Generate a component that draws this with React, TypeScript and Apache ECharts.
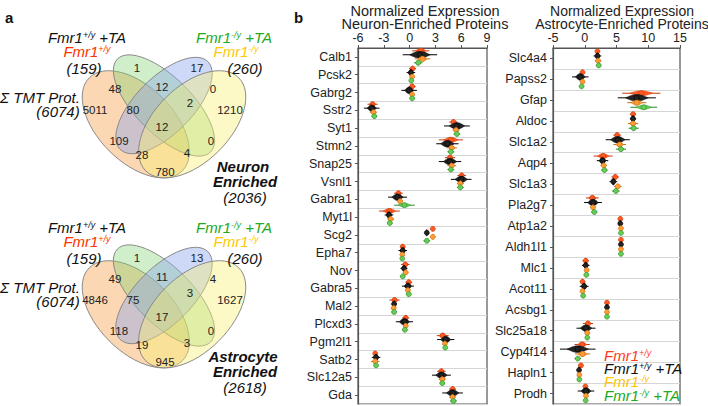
import React, { useEffect, useRef } from "react";
import * as echarts from "echarts";

// ---------------- Panel a: Venn counts ----------------
// region order: O, G, B, Y, OG, GB, BY, OGB, GBY, OGBY, OB, GY, OBY, OGY, OY
// O = Σ TMT Prot., G = Fmr1+/y +TA & Fmr1+/y, B = Fmr1-/y +TA & Fmr1-/y, Y = cell-type enriched
const neuronVennCounts = [5011, 1, 17, 1210, 48, 12, 0, 80, 2, 12, 109, 0, 28, 4, 780];
const astroVennCounts = [4846, 1, 13, 1627, 49, 11, 4, 75, 3, 17, 118, 0, 19, 3, 945];
const totalTMT = 6074;
const totalWT = 159;
const totalKO = 260;
const totalNeuron = 2036;
const totalAstro = 2618;

// ---------------- Panel b: neuron-enriched ----------------
const neuronProteins = ["Calb1", "Pcsk2", "Gabrg2", "Sstr2", "Syt1", "Stmn2", "Snap25", "Vsnl1", "Gabra1", "Myt1l", "Scg2", "Epha7", "Nov", "Gabra5", "Mal2", "Plcxd3", "Pgm2l1", "Satb2", "Slc12a5", "Gda"];
const neuronWT = [1.3, 0.35, 0.3, -4.3, 5.1, 4.8, 4.7, 6.05, -1.3, -2.35, 2.7, -0.8, -0.5, -0.1, -1.75, -0.45, 3.85, -4.0, 3.7, 5.0];
const neuronWTSpread = [1.0, 0.4, 0.4, 0.6, 0.5, 1.4, 0.6, 0.5, 0.5, 1.2, 0.15, 0.3, 0.5, 0.4, 0.6, 0.4, 0.7, 0.2, 0.5, 0.4];
const neuronWTTA = [1.2, 0.15, -0.05, -4.4, 5.5, 4.4, 4.7, 6.0, -1.4, -2.4, 2.0, -0.8, -0.65, -0.2, -1.8, -0.6, 4.2, -3.9, 3.7, 5.0];
const neuronWTTASpread = [2.0, 0.5, 0.9, 0.9, 1.5, 1.3, 1.3, 1.2, 1.1, 0.5, 0.1, 0.5, 0.4, 0.7, 0.3, 1.0, 1.0, 0.5, 1.1, 1.2];
const neuronKO = [1.5, 0.3, 0.3, -4.2, 5.4, 4.9, 4.9, 5.9, -1.1, -2.2, 2.7, -0.85, -0.45, -0.2, -1.85, -0.45, 4.1, -4.0, 3.8, 5.0];
const neuronKOSpread = [0.9, 0.3, 0.3, 0.4, 0.4, 0.6, 0.5, 0.4, 0.3, 0.4, 0.3, 0.2, 0.3, 0.3, 0.3, 0.3, 0.2, 0.5, 0.4, 0.4];
const neuronKOTA = [1.0, 0.2, 0.3, -4.1, 5.5, 4.8, 4.8, 5.9, -0.6, -2.3, 2.0, -0.85, -0.8, -0.1, -1.8, -0.55, 4.15, -3.9, 3.8, 5.1];
const neuronKOTASpread = [0.5, 0.2, 0.3, 0.3, 0.4, 0.4, 0.4, 0.4, 1.2, 0.3, 0.4, 0.2, 0.3, 0.3, 0.3, 0.3, 0.2, 0.2, 0.3, 0.4];

// ---------------- Panel b: astrocyte-enriched ----------------
const astroProteins = ["Slc4a4", "Papss2", "Gfap", "Aldoc", "Slc1a2", "Aqp4", "Slc1a3", "Pla2g7", "Atp1a2", "Aldh1l1", "Mlc1", "Acot11", "Acsbg1", "Slc25a18", "Cyp4f14", "Hapln1", "Prodh"];
const astroWT = [2.0, -0.35, 8.9, 7.6, 5.1, 2.9, 4.8, 1.2, 5.6, 5.7, 0.15, -0.35, 3.5, 0.5, -0.4, -0.6, 0.1];
const astroWTSpread = [0.4, 0.3, 3.0, 0.5, 0.6, 1.5, 0.6, 1.0, 0.2, 0.1, 0.5, 0.4, 0.1, 0.8, 1.2, 0.4, 0.2];
const astroWTTA = [2.0, -0.7, 8.2, 7.6, 5.2, 2.8, 4.5, 1.3, 5.6, 5.7, 0.15, -0.1, 3.5, 0.2, -1.1, -0.9, 0.2];
const astroWTTASpread = [0.6, 1.3, 3.0, 0.5, 1.9, 0.9, 0.6, 1.4, 0.3, 0.3, 0.6, 0.7, 0.15, 1.5, 2.8, 0.3, 1.3];
const astroKO = [2.1, -0.35, 8.2, 7.6, 5.5, 3.0, 5.2, 1.3, 5.7, 5.7, 0.3, -0.35, 3.5, 0.4, -0.35, -0.85, 0.2];
const astroKOSpread = [0.5, 0.3, 1.5, 0.8, 1.0, 0.5, 0.6, 0.4, 0.2, 0.1, 0.4, 0.3, 0.1, 0.4, 1.2, 0.2, 0.3];
const astroKOTA = [2.2, -0.5, 9.3, 7.7, 5.7, 3.1, 4.9, 1.5, 5.7, 5.7, 0.25, -0.25, 3.5, 0.4, -1.1, -0.85, 0.15];
const astroKOTASpread = [0.4, 0.3, 2.1, 0.8, 0.8, 0.5, 0.6, 0.5, 0.2, 0.1, 0.4, 0.2, 0.1, 0.3, 0.5, 0.2, 0.2];

const neuronTicks = { min: -6, max: 9, interval: 3 };
const astroTicks = { min: -5, max: 15, interval: 5 };

const FONT = "Liberation Sans, Arial, sans-serif";

const groups = [
  { name: "Fmr1+/y", sup: "+/y", tail: "", fill: "#ff5a22", stroke: "#c8380c", off: -0.34, h: 2.6, legend: "#ff3b1a" },
  { name: "Fmr1+/y +TA", sup: "+/y", tail: " +TA", fill: "#222222", stroke: "#000000", off: -0.12, h: 3.4, legend: "#111111" },
  { name: "Fmr1-/y", sup: "-/y", tail: "", fill: "#ff9c33", stroke: "#c96c12", off: 0.11, h: 2.6, legend: "#ffc400" },
  { name: "Fmr1-/y +TA", sup: "-/y", tail: " +TA", fill: "#66cc55", stroke: "#2f8a2a", off: 0.33, h: 2.2, legend: "#22aa22" },
];

function makeRender(g: any) {
  return (params: any, api: any) => {
    const c = api.value(0);
    const cat = api.value(1);
    const s = api.value(2);
    const p = api.coord([c, cat]);
    const band = api.size([0, 1])[1];
    const y = p[1] + g.off * band;
    const xl = api.coord([c - s, cat])[0];
    const xr = api.coord([c + s, cat])[0];
    const ll = api.coord([c - s * 0.6, cat])[0];
    const lr = api.coord([c + s * 0.6, cat])[0];
    const pts: number[][] = [];
    const n = 12;
    for (let t = 0; t <= n; t++) pts.push([ll + ((lr - ll) * t) / n, y - g.h * Math.sin((Math.PI * t) / n)]);
    for (let t = n; t >= 0; t--) pts.push([ll + ((lr - ll) * t) / n, y + g.h * Math.sin((Math.PI * t) / n)]);
    return {
      type: "group",
      children: [
        { type: "line", shape: { x1: xl, y1: y, x2: xr, y2: y }, style: { stroke: g.stroke, lineWidth: 1 } },
        { type: "polygon", shape: { points: pts }, style: { fill: g.fill, stroke: g.stroke, lineWidth: 0.4 } },
        { type: "circle", shape: { cx: p[0], cy: y, r: 2.5 }, style: { fill: g.fill, stroke: g.stroke, lineWidth: 0.6 } },
      ],
    };
  };
}

function richLabel(base: string, sup: string, tail: string) {
  return `{m|${base}}{s|${sup}}{m|${tail}}`;
}

const richStyles = (size: number, lh: number) => ({
  m: { fontSize: size, fontStyle: "italic", fontFamily: FONT, lineHeight: lh },
  s: { fontSize: 9, fontStyle: "italic", fontFamily: FONT, verticalAlign: "top", lineHeight: 9 },
  b: { fontSize: size, fontStyle: "italic", fontWeight: "bold", fontFamily: FONT, lineHeight: lh },
});

const regionPos = [
  [95, 110], [137, 68], [197, 68], [230, 110], [115, 89], [162, 87], [213, 89],
  [133, 110], [190, 103], [162, 127], [119, 141], [211, 141], [142, 155], [187, 153], [165, 172],
];

function vennGraphics(dy: number, counts: number[], cellName: string, cellTotal: number) {
  const S = 188;
  const cx = 164;
  const cy = 105.5 + dy;
  const els: any[] = [];
  const stroke = "#858585";
  const ell = (x: number, y: number, rx: number, ry: number, rot: number, fill: string) => ({
    type: "ellipse",
    x,
    y,
    rotation: rot,
    shape: { cx: 0, cy: 0, rx, ry },
    style: { fill, stroke, lineWidth: 0.9 },
    silent: true,
  });
  els.push(ell(cx - 0.15 * S, cy + 0.1 * S, 0.35 * S, 0.2 * S, -Math.PI / 4, "rgba(245,160,74,0.42)"));
  els.push(ell(cx, cy, 0.35 * S, 0.15 * S, -Math.PI / 4, "rgba(124,207,106,0.36)"));
  els.push(ell(cx, cy, 0.33 * S, 0.15 * S, Math.PI / 4, "rgba(138,164,238,0.42)"));
  els.push(ell(cx + 0.15 * S, cy + 0.1 * S, 0.35 * S, 0.2 * S, Math.PI / 4, "rgba(248,240,112,0.40)"));
  counts.forEach((v, i) => {
    els.push({
      type: "text",
      x: regionPos[i][0],
      y: regionPos[i][1] + dy,
      style: { text: String(v), fontSize: 11.5, fontFamily: FONT, fill: "#222", align: "center", verticalAlign: "middle" },
      silent: true,
    });
  });
  const lab = (x: number, y: number, text: string, fill: string) => ({
    type: "text",
    x,
    y: y + dy,
    style: { text, fill, fontSize: 15, fontStyle: "italic", fontFamily: FONT, align: "center", verticalAlign: "middle", rich: richStyles(15, 13) },
    silent: true,
  });
  els.push(lab(87, 37, richLabel("Fmr1", "+/y", " +TA"), "#111"));
  els.push(lab(87, 51, richLabel("Fmr1", "+/y", ""), "#ff3300"));
  els.push(lab(84, 68, `{m|(${totalWT})}`, "#111"));
  els.push(lab(40, 97, "{m|Σ TMT Prot.}", "#111"));
  els.push(lab(58, 111, `{m|(${totalTMT})}`, "#111"));
  els.push(lab(234, 37, richLabel("Fmr1", "-/y", " +TA"), "#22aa22"));
  els.push(lab(236, 51, richLabel("Fmr1", "-/y", ""), "#ffc800"));
  els.push(lab(245, 68, `{m|(${totalKO})}`, "#111"));
  els.push(lab(243, 166, `{b|${cellName}}`, "#111"));
  els.push(lab(245, 181, "{b|Enriched}", "#111"));
  els.push(lab(245, 197, `{m|(${cellTotal})}`, "#111"));
  return els;
}

function legendGraphics() {
  const ys = [355, 368, 381, 395];
  return groups.map((g, i) => ({
    type: "text",
    x: 604,
    y: ys[i],
    z: 100,
    style: {
      text: richLabel("Fmr1", g.sup, g.tail),
      fill: g.legend,
      fontSize: 15,
      fontStyle: "italic",
      fontFamily: FONT,
      align: "left",
      verticalAlign: "middle",
      rich: richStyles(15, 12.5),
    },
    silent: true,
  }));
}

export default function App() {
  const ref = useRef<HTMLDivElement>(null);
  useEffect(() => {
    if (!ref.current) return;
    const chart = echarts.init(ref.current, undefined, { renderer: "svg" });

    const neuronSets = [
      [neuronWT, neuronWTSpread],
      [neuronWTTA, neuronWTTASpread],
      [neuronKO, neuronKOSpread],
      [neuronKOTA, neuronKOTASpread],
    ];
    const astroSets = [
      [astroWT, astroWTSpread],
      [astroWTTA, astroWTTASpread],
      [astroKO, astroKOSpread],
      [astroKOTA, astroKOTASpread],
    ];

    const series: any[] = [];
    groups.forEach((g, gi) => {
      series.push({
        type: "custom",
        name: g.name,
        xAxisIndex: 0,
        yAxisIndex: 0,
        renderItem: makeRender(g),
        encode: { x: 0, y: 1 },
        itemStyle: { color: g.legend },
        data: neuronProteins.map((_, i) => [neuronSets[gi][0][i], i, neuronSets[gi][1][i]]),
        z: 3 + gi,
      });
      series.push({
        type: "custom",
        name: g.name,
        xAxisIndex: 1,
        yAxisIndex: 1,
        renderItem: makeRender(g),
        encode: { x: 0, y: 1 },
        itemStyle: { color: g.legend },
        data: astroProteins.map((_, i) => [astroSets[gi][0][i], i, astroSets[gi][1][i]]),
        z: 3 + gi,
      });
    });

    const valueAxis = (gridIndex: number, t: any) => ({
      type: "value",
      gridIndex,
      position: "top",
      min: t.min,
      max: t.max,
      interval: t.interval,
      axisLine: { show: true, onZero: false, lineStyle: { color: "#555", width: 1.2 } },
      axisTick: { show: true, length: 3, lineStyle: { color: "#555" } },
      axisLabel: { fontSize: 12.5, color: "#222", margin: 4, fontFamily: FONT },
      splitLine: { show: false },
    });
    const catAxis = (gridIndex: number, data: string[]) => ({
      type: "category",
      gridIndex,
      data,
      inverse: true,
      axisLine: { show: true, onZero: false, lineStyle: { color: "#555", width: 1.2 } },
      axisTick: { show: true, alignWithLabel: true, length: 3, lineStyle: { color: "#555" } },
      axisLabel: { fontSize: 12.5, color: "#222", margin: 6, fontFamily: FONT, interval: 0 },
      splitLine: { show: true, lineStyle: { color: "#d6d6d6", width: 1 } },
    });

    chart.setOption({
      animation: false,
      textStyle: { fontFamily: FONT },
      title: [
        {
          text: "Normalized Expression\nNeuron-Enriched Proteins",
          left: 420,
          top: -1,
          textAlign: "center",
          textStyle: { fontSize: 14.5, fontWeight: "normal", color: "#222", lineHeight: 13.5, fontFamily: FONT },
        },
        {
          text: "Normalized Expression\nAstrocyte-Enriched Proteins",
          left: 617,
          top: -1,
          textAlign: "center",
          textStyle: { fontSize: 14, fontWeight: "normal", color: "#222", lineHeight: 13.5, fontFamily: FONT },
        },
      ],
      grid: [
        { left: 358, right: 221, top: 48, bottom: 2, show: true, borderColor: "#555", borderWidth: 1.2, backgroundColor: "transparent" },
        { left: 553, right: 28, top: 48, bottom: 2, show: true, borderColor: "#555", borderWidth: 1.2, backgroundColor: "transparent" },
      ],
      xAxis: [valueAxis(0, neuronTicks), valueAxis(1, astroTicks)],
      yAxis: [catAxis(0, neuronProteins), catAxis(1, astroProteins)],
      series,
      graphic: [
        { type: "text", x: 5, y: 10, style: { text: "a", fontSize: 15, fontWeight: "bold", fontFamily: FONT, fill: "#111" } },
        { type: "text", x: 294, y: 10, style: { text: "b", fontSize: 15, fontWeight: "bold", fontFamily: FONT, fill: "#111" } },
        ...vennGraphics(0, neuronVennCounts, "Neuron", totalNeuron),
        ...vennGraphics(190, astroVennCounts, "Astrocyte", totalAstro),
        ...legendGraphics(),
      ],
    });
    return () => chart.dispose();
  }, []);
  return <div ref={ref} style={{ position: "fixed", left: 0, top: 0, width: 708, height: 406, background: "#fff" }} />;
}
